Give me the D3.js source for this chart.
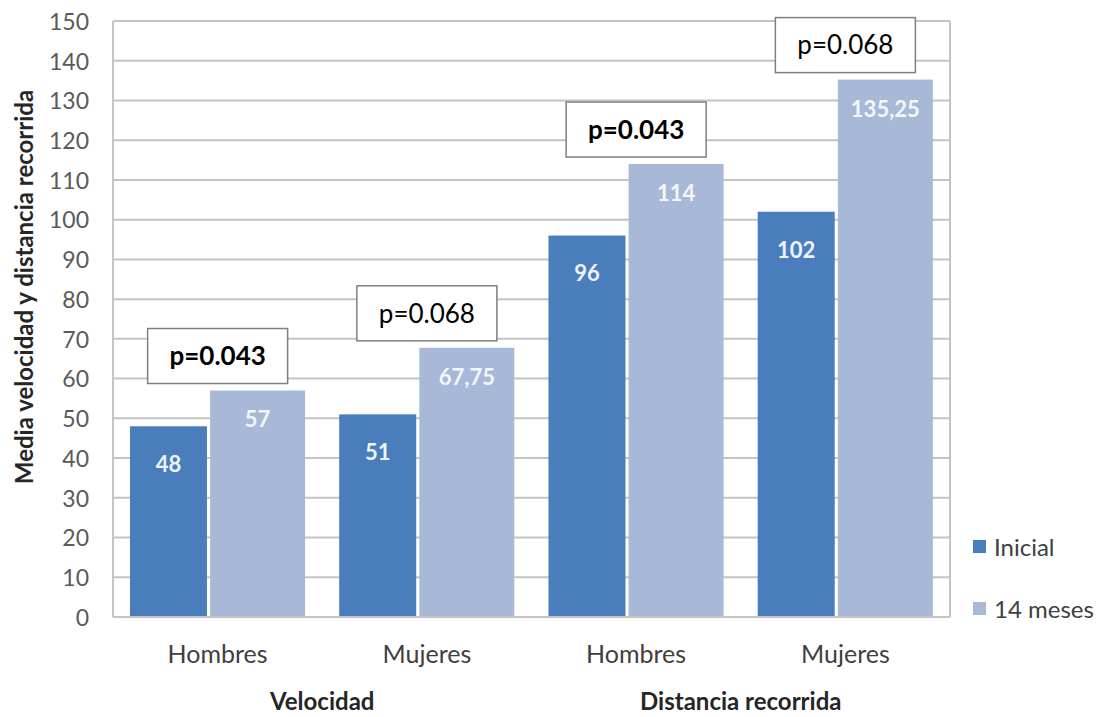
<!DOCTYPE html>
<html>
<head>
<meta charset="utf-8">
<script src="https://cdn.jsdelivr.net/npm/d3@7"></script>
<style>
  html, body { margin: 0; padding: 0; background: #ffffff; }
  svg { display: block; font-family: Lato, "Open Sans", sans-serif; }
</style>
</head>
<body>
<svg id="chart" width="1099" height="717"></svg>
<script>
// Categories: sex within each measure
const categories = ["Hombres", "Mujeres", "Hombres", "Mujeres"];
// Measure groups spanning two categories each
const measures = ["Velocidad", "Distancia recorrida"];
// Series
const seriesNames = ["Inicial", "14 meses"];
const inicialValues = [48, 51, 96, 102];
const mesesValues = [57, 67.75, 114, 135.25];
// Printed value labels (comma decimal)
const inicialLabels = ["48", "51", "96", "102"];
const mesesLabels = ["57", "67,75", "114", "135,25"];
// p-values of the comparison for each category
const pValues = [0.043, 0.068, 0.043, 0.068];
// Y axis ticks
const yTicks = [0, 10, 20, 30, 40, 50, 60, 70, 80, 90, 100, 110, 120, 130, 140, 150];

const colors = { "Inicial": "#4a7dbb", "14 meses": "#a7b9d7" };

const svg = d3.select("#chart");
const plot = { left: 113, right: 950, top: 21, bottom: 617 };

const keys = categories.map((c, i) => i);
const x0 = d3.scaleBand().domain(keys).range([plot.left, plot.right]).padding(0);
const y = d3.scaleLinear().domain([0, 150]).range([plot.bottom, plot.top]);
const bw = x0.bandwidth();

// Layout of the two bars inside each category band
const layout = {
  "Inicial":  { start: 0.081, width: 0.368, labelDy: 38, fill: colors["Inicial"] },
  "14 meses": { start: 0.464, width: 0.454, labelDy: 29, fill: colors["14 meses"] }
};

// Horizontal gridlines
svg.append("g")
  .selectAll("line")
  .data(yTicks)
  .join("line")
  .attr("x1", plot.left).attr("x2", plot.right)
  .attr("y1", d => y(d)).attr("y2", d => y(d))
  .attr("stroke", "#c4c4c4").attr("stroke-width", 2);

// Frame sides
svg.append("line").attr("x1", plot.left).attr("x2", plot.left)
  .attr("y1", plot.top).attr("y2", plot.bottom)
  .attr("stroke", "#c4c4c4").attr("stroke-width", 2);
svg.append("line").attr("x1", plot.right).attr("x2", plot.right)
  .attr("y1", plot.top).attr("y2", plot.bottom)
  .attr("stroke", "#c4c4c4").attr("stroke-width", 2);

// Y axis labels
const yAxis = d3.axisLeft(y).tickValues(yTicks).tickSize(0).tickPadding(0);
const gy = svg.append("g").attr("transform", `translate(89,0)`).call(yAxis);
gy.select(".domain").remove();
gy.selectAll("text")
  .attr("font-family", "Lato, 'Open Sans', sans-serif")
  .attr("font-size", 23).attr("fill", "#5a5a5a").attr("dy", "0.36em");

// Bars
const rows = keys.map(i => ({
  i,
  "Inicial": inicialValues[i], "14 meses": mesesValues[i],
  labels: { "Inicial": inicialLabels[i], "14 meses": mesesLabels[i] }
}));

seriesNames.forEach(s => {
  const L = layout[s];
  const g = svg.append("g");
  g.selectAll("rect")
    .data(rows)
    .join("rect")
    .attr("x", d => x0(d.i) + bw * L.start)
    .attr("width", bw * L.width)
    .attr("y", d => y(d[s]))
    .attr("height", d => y(0) - y(d[s]))
    .attr("fill", L.fill);
  g.selectAll("text")
    .data(rows)
    .join("text")
    .attr("x", d => x0(d.i) + bw * (L.start + L.width / 2))
    .attr("y", d => y(d[s]) + L.labelDy)
    .attr("dy", "0.36em")
    .attr("text-anchor", "middle")
    .attr("font-size", 22).attr("font-weight", "bold")
    .attr("fill", s === "Inicial" ? "#eef3fa" : "#f3f6fb")
    .text(d => d.labels[s]);
});

// Bottom axis line
svg.append("line").attr("x1", plot.left).attr("x2", plot.right)
  .attr("y1", plot.bottom).attr("y2", plot.bottom)
  .attr("stroke", "#c4c4c4").attr("stroke-width", 2);

// Category labels
svg.append("g").selectAll("text")
  .data(keys)
  .join("text")
  .attr("x", d => x0(d) + bw / 2)
  .attr("y", 663)
  .attr("text-anchor", "middle")
  .attr("font-size", 25).attr("fill", "#404040")
  .text(d => categories[d]);

// Measure labels, centred under their pair of categories
svg.append("g").selectAll("text")
  .data(measures)
  .join("text")
  .attr("x", (d, i) => x0(i * 2) + bw)
  .attr("y", 710)
  .attr("text-anchor", "middle")
  .attr("font-size", 24).attr("font-weight", "bold").attr("fill", "#262626")
  .text(d => d);

// Y axis title
svg.append("text")
  .attr("transform", "translate(33,287) rotate(-90)")
  .attr("text-anchor", "middle")
  .attr("font-size", 24).attr("font-weight", "bold").attr("fill", "#262626")
  .text("Media velocidad y distancia recorrida");

// p-value boxes above each category
const boxW = 140, boxH = 55, boxGap = 7;
const ann = svg.append("g");
keys.forEach(i => {
  const cx = x0(i) + bw / 2;
  const top = y(Math.max(inicialValues[i], mesesValues[i])) - boxGap - boxH;
  ann.append("rect")
    .attr("x", cx - boxW / 2).attr("y", top)
    .attr("width", boxW).attr("height", boxH)
    .attr("fill", "#ffffff").attr("stroke", "#7f7f7f").attr("stroke-width", 1.5);
  ann.append("text")
    .attr("x", cx).attr("y", top + boxH / 2)
    .attr("dy", "0.36em")
    .attr("text-anchor", "middle")
    .attr("font-size", 26)
    .attr("font-weight", pValues[i] < 0.05 ? "bold" : "normal")
    .attr("fill", "#000000")
    .text("p=" + pValues[i].toFixed(3));
});

// Legend
const legend = svg.append("g");
const legendY = [547, 609];
seriesNames.forEach((s, i) => {
  legend.append("rect")
    .attr("x", 973).attr("y", legendY[i] - 7)
    .attr("width", 13).attr("height", 13)
    .attr("fill", colors[s]);
  legend.append("text")
    .attr("x", 994).attr("y", legendY[i])
    .attr("dy", "0.36em")
    .attr("font-size", 24).attr("fill", "#404040")
    .text(s);
});
</script>
</body>
</html>
